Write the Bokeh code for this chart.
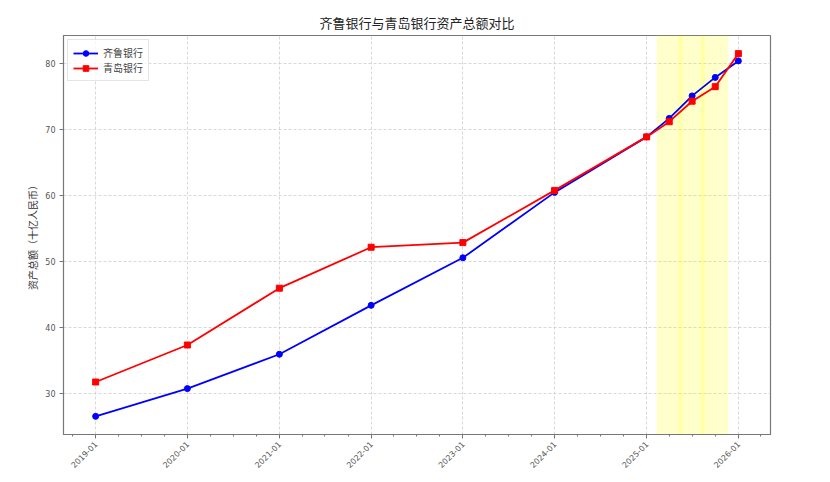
import pandas as pd
from bokeh.plotting import figure
from bokeh.models import (Range1d, FixedTicker, SingleIntervalTicker, DatetimeTickFormatter,
                          BoxAnnotation)
from bokeh.embed import file_html
from bokeh.resources import INLINE
import math

# ---- data ----
dates = ["2019-01-01", "2020-01-01", "2021-01-01", "2022-01-01", "2023-01-01",
         "2024-01-01", "2025-01-01", "2025-04-01", "2025-07-01", "2025-10-01", "2026-01-01"]
qilu = [26.6, 30.8, 36.0, 43.4, 50.6, 60.5, 68.9, 71.7, 75.1, 77.9, 80.4]
qingdao = [31.8, 37.4, 46.0, 52.2, 52.9, 60.8, 68.9, 71.2, 74.3, 76.5, 81.5]
series_names = ["齐鲁银行", "青岛银行"]
span_start = ["2025-02-10", "2025-05-08", "2025-08-05"]
span_end = ["2025-05-24", "2025-08-20", "2025-11-22"]
title_text = "齐鲁银行与青岛银行资产总额对比"
y_label = "资产总额（十亿人民币）"

FONT = "Noto Sans CJK SC"

x = pd.to_datetime(dates)
xmin, xmax = x.min(), x.max()
pad = (xmax - xmin) * 0.05
allv = qilu + qingdao
ypad = (max(allv) - min(allv)) * 0.05

p = figure(width=814, height=474, x_axis_type="datetime", output_backend="svg",
           toolbar_location=None,
           x_range=Range1d(xmin - pad, xmax + pad),
           y_range=Range1d(min(allv) - ypad, max(allv) + ypad),
           min_border_left=63, min_border_right=44, min_border_top=35, min_border_bottom=0)

p.title.text = title_text
p.title.align = "center"
p.title.text_font = FONT
p.title.text_font_size = "13px"
p.title.text_font_style = "normal"
p.title.text_color = "#222222"
p.title.standoff = 7

# shaded spans
for s, e in zip(span_start, span_end):
    p.add_layout(BoxAnnotation(left=pd.Timestamp(s), right=pd.Timestamp(e),
                               fill_color="yellow", fill_alpha=0.2, line_color=None,
                               level="underlay"))

# series
p.line(x, qilu, line_color="#0000ff", line_width=1.8, legend_label=series_names[0])
p.scatter(x, qilu, marker="circle", size=6, fill_color="#0000ff", line_color="#0000ff",
          legend_label=series_names[0])
p.line(x, qingdao, line_color="#ff0000", line_width=1.8, legend_label=series_names[1])
p.scatter(x, qingdao, marker="square", size=6, fill_color="#ff0000", line_color="#ff0000",
          legend_label=series_names[1])

# x axis ticks
years = pd.date_range(xmin, xmax, freq="YS")
quarters = pd.date_range(xmin - pd.DateOffset(months=6), xmax + pd.DateOffset(months=6), freq="QS")
to_ms = lambda d: d.value / 1e6
p.xaxis.ticker = FixedTicker(ticks=[to_ms(d) for d in years],
                             minor_ticks=[to_ms(d) for d in quarters])
fmt = "%Y-%m"
p.xaxis.formatter = DatetimeTickFormatter(years=fmt, months=fmt, days=fmt, hours=fmt,
                                          minutes=fmt, seconds=fmt, milliseconds=fmt,
                                          microseconds=fmt, minsec=fmt, hourmin=fmt)
p.xaxis.major_label_orientation = math.pi / 4

p.yaxis.ticker = SingleIntervalTicker(interval=10)
p.yaxis.axis_label = y_label
p.yaxis.axis_label_text_font = FONT
p.yaxis.axis_label_text_font_size = "10px"
p.yaxis.axis_label_text_font_style = "normal"
p.yaxis.axis_label_text_color = "#333333"
p.yaxis.axis_label_standoff = 2

for ax in (p.xaxis, p.yaxis):
    ax.major_label_text_font = "DejaVu Sans"
    ax.major_label_text_font_size = "8px"
    ax.major_label_text_color = "#555555"
    ax.axis_line_color = "#777777"
    ax.major_tick_line_color = "#777777"
    ax.minor_tick_line_color = "#777777"
    ax.major_tick_out = 4
    ax.major_tick_in = 0
    ax.minor_tick_out = 2
    ax.minor_tick_in = 0
    ax.major_label_standoff = 4
p.yaxis.minor_tick_line_color = None

p.outline_line_color = "#777777"
p.outline_line_width = 1.2

p.grid.grid_line_color = "#c8c8c8"
p.grid.grid_line_dash = "3 2"
p.grid.grid_line_alpha = 0.7

p.legend.location = "top_left"
p.legend.label_text_font = FONT
p.legend.label_text_font_size = "10px"
p.legend.border_line_color = "#cccccc"
p.legend.background_fill_alpha = 0.8
p.legend.margin = 4
p.legend.padding = 5
p.legend.spacing = 0
p.legend.glyph_width = 25
p.legend.glyph_height = 14
p.legend.label_height = 14

open("out.html", "w").write(file_html(p, INLINE))
